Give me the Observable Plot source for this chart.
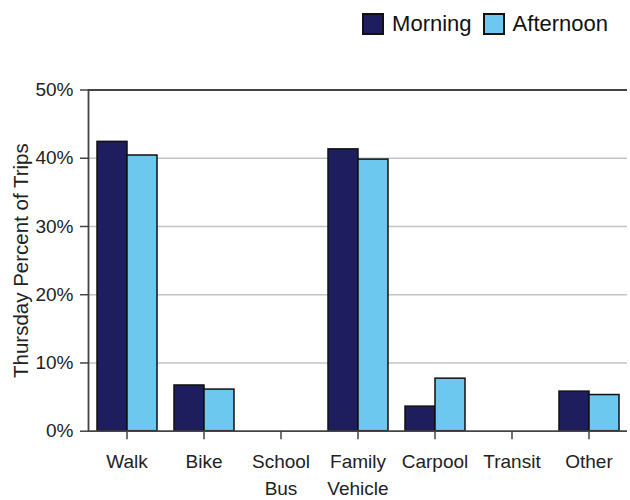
<!DOCTYPE html>
<html>
<head>
<meta charset="utf-8">
<script src="https://cdn.jsdelivr.net/npm/d3@7"></script>
<script src="https://cdn.jsdelivr.net/npm/@observablehq/plot@0.6"></script>
<style>
  html, body { margin: 0; padding: 0; background: #fff; }
  body { width: 630px; height: 500px; overflow: hidden; font-family: "Liberation Sans", Arial, sans-serif; }
  #legend { height: 48px; display: flex; justify-content: flex-end; align-items: center; padding-right: 22px; box-sizing: border-box; padding-top: 0; }
  .item { display: flex; align-items: center; font-size: 22px; color: #111; margin-left: 11px; }
  .sw { width: 18px; height: 18px; border: 2px solid #111; margin-right: 8px; }
  svg { display: block; }
  svg g[aria-label="y-axis label"] text { font-size: 20.5px; }
</style>
</head>
<body>
<div id="legend"></div>
<div id="chart"></div>
<script>
const categories = ["Walk", "Bike", "School Bus", "Family Vehicle", "Carpool", "Transit", "Other"];
const periods = ["Morning", "Afternoon"];
const morning = [42.4, 6.7, 0, 41.3, 3.6, 0, 5.8];
const afternoon = [40.4, 6.1, 0, 39.8, 7.7, 0, 5.3];
const colors = ["#1e1e5e", "#6cc8ef"];
const yTicks = [0, 10, 20, 30, 40, 50];
const gridTicks = [10, 20, 30, 40];
const yLabel = "Thursday Percent of Trips";

const data = [];
categories.forEach((c, i) => {
  data.push({category: c, period: periods[0], value: morning[i]});
  data.push({category: c, period: periods[1], value: afternoon[i]});
});

const legend = document.getElementById("legend");
periods.forEach((p, i) => {
  const it = document.createElement("div");
  it.className = "item";
  const sw = document.createElement("div");
  sw.className = "sw";
  sw.style.background = colors[i];
  const t = document.createElement("span");
  t.textContent = p;
  it.appendChild(sw);
  it.appendChild(t);
  legend.appendChild(it);
});

const chart = Plot.plot({
  width: 630,
  height: 452,
  marginTop: 41.5,
  marginBottom: 69.3,
  marginLeft: 86,
  marginRight: 2,
  style: {fontFamily: "'Liberation Sans', Arial, sans-serif", background: "#fff"},
  fx: {domain: categories, padding: 0, label: null},
  x: {domain: periods, paddingInner: 0, paddingOuter: 0.28, axis: null},
  y: {domain: [0, 50], label: null},
  color: {domain: periods, range: colors},
  marks: [
    Plot.ruleY(gridTicks, {stroke: "#c4c4c4", strokeWidth: 1.5}),
    Plot.ruleY([50], {stroke: "#444", strokeWidth: 1.8}),
    Plot.barY(data, {fx: "category", x: "period", y: "value", fill: "period", stroke: "#111", strokeWidth: 1.5}),
    Plot.ruleY([0], {stroke: "#444", strokeWidth: 1.8}),
    Plot.frame({anchor: "left", facetAnchor: "left", stroke: "#444", strokeWidth: 1.8}),
    Plot.axisY({
      ticks: yTicks, tickFormat: d => d + "%", tickSize: 8, tickPadding: 7,
      fontSize: 19, stroke: "#444", strokeWidth: 1.5, color: "#222",
      label: yLabel, labelAnchor: "center", labelArrow: "none", labelOffset: 75
    }),
    Plot.axisFx({
      anchor: "bottom", tickSize: 8.5, tickPadding: 9, fontSize: 19, lineHeight: 1.42,
      stroke: "#444", strokeWidth: 1.5, color: "#222", label: null,
      tickFormat: d => d.replace(" ", "\n")
    })
  ]
});
document.getElementById("chart").appendChild(chart);
</script>
</body>
</html>
